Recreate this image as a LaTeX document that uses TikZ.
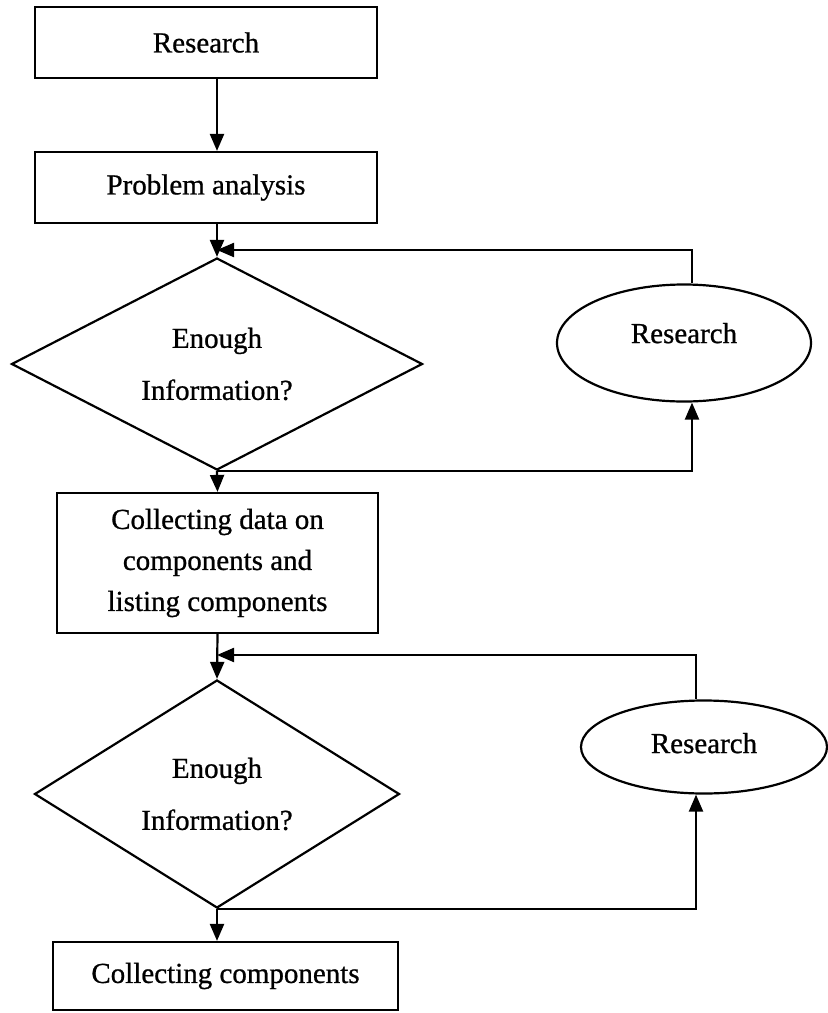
\documentclass[tikz,border=0pt]{standalone}
\usepackage{fontspec}
\setmainfont{Liberation Serif}[FakeBold=0.8]
\usetikzlibrary{shapes.geometric,arrows.meta}

\begin{document}
\begin{tikzpicture}[x=1pt, y=-1pt, line width=2.2pt,
    box/.style = {draw, rectangle, inner sep=0pt, align=center, font=\fontsize{29}{41}\selectfont},
    decision/.style = {draw, diamond, aspect=2, inner sep=0pt, align=center, font=\fontsize{29}{52}\selectfont},
    oval/.style = {draw, ellipse, inner sep=0pt, font=\fontsize{29}{35}\selectfont},
    arr/.style = {-{Triangle[length=17pt,width=14pt]}}]
  \useasboundingbox (0,0) rectangle (828,1013);

  %%% main column %%%
  \node[box, minimum width=342pt, minimum height=71pt] (research) at (206,42.5) {Research};
  \node[box, minimum width=342pt, minimum height=71pt] (problem) at (206,187.5) {Problem analysis};
  \node[decision, minimum width=411pt, minimum height=212pt] (dec1) at (217,364) {Enough\\Information?};
  \node[box, minimum width=321pt, minimum height=140pt] (collect) at (217.5,563) {Collecting data on\\components and\\listing components};
  \node[decision, minimum width=365pt, minimum height=228pt] (dec2) at (217,794) {Enough\\Information?};
  \node[box, minimum width=345pt, minimum height=68pt] (final) at (225.5,976) {Collecting components};

  %%% side loops %%%
  \node[oval, minimum width=254pt, minimum height=117pt] (resA) at (684,343) {\raisebox{20pt}{Research}};
  \node[oval, minimum width=246pt, minimum height=93pt] (resB) at (704,747) {\raisebox{8pt}{Research}};
  \coordinate (loopA) at (692,250);
  \coordinate (loopB) at (696,655);

  % down the column
  \draw[arr] (research.south -| dec1.north) -- (problem.north -| dec1.north);
  \draw[arr] (problem.south -| dec1.north) -- (dec1.north);
  \draw[arr] (dec1.south) -- (collect.north);
  \draw[arr] (collect.south) -- (dec2.north);
  \draw[arr] (dec2.south) -- (dec2.south |- final.north);

  % first loop
  \draw[arr] (dec1.south) -| (resA.south -| loopA);
  \draw[arr] (loopA |- resA.north) -- (loopA) -- (dec1.north |- loopA);
  % second loop
  \draw[arr] (dec2.south) -| (resB.south -| loopB);
  \draw[arr] (loopB |- resB.north) -- (loopB) -- (dec2.north |- loopB);
\end{tikzpicture}
\end{document}
